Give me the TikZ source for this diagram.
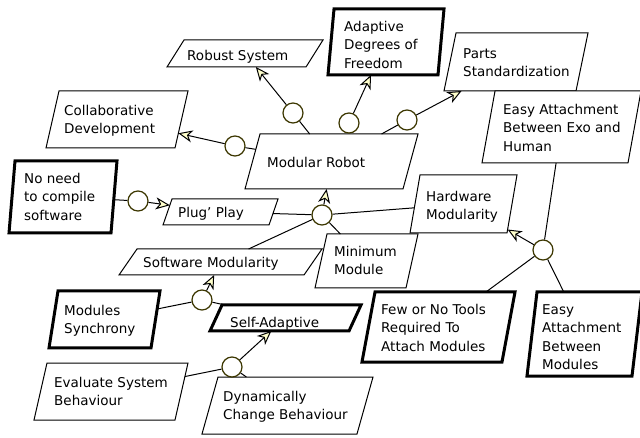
\documentclass[tikz,border=0pt]{standalone}
\usepackage{fontspec}
\setmainfont{DejaVu Sans}
\usetikzlibrary{arrows.meta}
\definecolor{hubcol}{RGB}{60,55,0}
\definecolor{arrfill}{RGB}{255,255,204}
\begin{document}
\begin{tikzpicture}[x=1pt,y=-1pt,
  box/.style={rectangle, draw=black, fill=white, line width=1pt, inner sep=0pt, outer sep=0pt},
  boldbox/.style={box, line width=3pt},
  lbl/.style={anchor=north west, align=left, inner sep=0pt, font=\fontsize{13.5}{18.2}\selectfont},
  hub/.style={circle, draw=hubcol, fill=white, line width=1.2pt, minimum size=20pt, inner sep=0pt},
  conn/.style={line width=1pt, draw=black},
  arr/.style={conn, -{Stealth[length=14pt,width=12pt,inset=4pt,fill=arrfill]}},
]
\useasboundingbox (0,0) rectangle (640,438);
\fill[white] (0,0) rectangle (640,438);
\clip (0,0) rectangle (640,438);

% boxes (parallelograms: slanted rectangles)
\node[box, minimum width=139pt, minimum height=27pt, xslant=0.630] (robust) at (245,53.5) {};
\node[box, minimum width=129pt, minimum height=57pt, xslant=0.228] (collab) at (117,119.5) {};
\node[boldbox, minimum width=110pt, minimum height=66pt, xslant=0.091] (adaptive) at (386,42) {};
\node[box, minimum width=132pt, minimum height=58pt, xslant=0.207] (parts) at (516,62) {};
\node[box, minimum width=146pt, minimum height=72pt, xslant=0.181] (exo) at (561.5,127) {};
\node[box, minimum width=158pt, minimum height=55pt, xslant=0.273] (modular) at (331.5,161.5) {};
\node[boldbox, minimum width=102pt, minimum height=72pt, xslant=0.083] (noneed) at (63,197) {};
\node[box, minimum width=106pt, minimum height=26pt, xslant=0.346] (plug) at (220.5,212) {};
\node[box, minimum width=97pt, minimum height=58pt, xslant=0.172] (hardware) at (463.5,204) {};
\node[box, minimum width=91pt, minimum height=54pt, xslant=0.222] (minimum) at (366.5,261) {};
\node[box, minimum width=185pt, minimum height=26pt, xslant=0.692] (software) at (220.5,262) {};
\node[boldbox, minimum width=102pt, minimum height=57pt, xslant=0.158] (modsync) at (104.5,319.5) {};
\node[boldbox, minimum width=139pt, minimum height=26pt, xslant=0.462] (selfadapt) at (285.5,318) {};
\node[box, minimum width=141pt, minimum height=57pt, xslant=0.228] (evaluate) at (111,391.5) {};
\node[box, minimum width=155pt, minimum height=57pt, xslant=0.281] (dynamic) at (287.5,405.5) {};
\node[boldbox, minimum width=140pt, minimum height=70pt, xslant=0.186] (few) at (438.5,327) {};
\node[boldbox, minimum width=105pt, minimum height=84pt, xslant=0.119] (easymod) at (584.5,334) {};

% texts
\node[lbl] (robust-t) at (187,47.3) {\strut Robust System};
\node[lbl] (collab-t) at (64,102.8) {\strut Collaborative\\\strut Development};
\node[lbl] (adaptive-t) at (344,18.8) {\strut Adaptive\\\strut Degrees of\\\strut Freedom};
\node[lbl] (parts-t) at (463,45.8) {\strut Parts\\\strut Standardization};
\node[lbl] (exo-t) at (503,101.8) {\strut Easy Attachment\\\strut Between Exo and\\\strut Human};
\node[lbl] (modular-t) at (267,154.8) {\strut Modular Robot};
\node[lbl] (noneed-t) at (24,170.8) {\strut No need\\\strut to compile\\\strut software};
\node[lbl] (plug-t) at (178,204.8) {\strut Plug' Play};
\node[lbl] (hardware-t) at (426,188.8) {\strut Hardware\\\strut Modularity};
\node[lbl] (minimum-t) at (334,243.8) {\strut Minimum\\\strut Module};
\node[lbl] (software-t) at (143,254.8) {\strut Software Modularity};
\node[lbl] (modsync-t) at (64,302.8) {\strut Modules\\\strut Synchrony};
\node[lbl] (selfadapt-t) at (230,314.8) {\strut Self-Adaptive};
\node[lbl] (evaluate-t) at (54,374.8) {\strut Evaluate System\\\strut Behaviour};
\node[lbl] (dynamic-t) at (223,388.8) {\strut Dynamically\\\strut Change Behaviour};
\node[lbl] (few-t) at (381,301.8) {\strut Few or No Tools\\\strut Required To\\\strut Attach Modules};
\node[lbl] (easymod-t) at (542,301.8) {\strut Easy\\\strut Attachment\\\strut Between\\\strut Modules};

% hubs
\node[hub] (c1) at (293,113) {};
\node[hub] (c2) at (235,146) {};
\node[hub] (c3) at (349,123) {};
\node[hub] (c4) at (407,120) {};
\node[hub] (c5) at (138,201) {};
\node[hub] (c6) at (322,215) {};
\node[hub] (c7) at (202,300) {};
\node[hub] (c8) at (232,367) {};
\node[hub] (c9) at (543,250) {};

% connectors
\draw[conn] (modular) -- (c1); \draw[arr] (c1) -- (robust);
\draw[conn] (modular) -- (c2); \draw[arr] (c2) -- (collab);
\draw[arr] (c3) -- (adaptive);
\draw[conn] (modular) -- (c4); \draw[arr] (c4) -- (parts);
\draw[conn] (noneed) -- (c5); \draw[arr] (c5) -- (plug);
\draw[arr] (c6) -- (modular);
\draw[conn] (plug) -- (c6);
\draw[conn] (software) -- (c6);
\draw[conn] (minimum) -- (c6);
\draw[conn] (hardware) -- (c6);
\draw[arr] (c7) -- (software);
\draw[conn] (modsync) -- (c7);
\draw[conn] (selfadapt) -- (c7);
\draw[arr] (c8) -- (selfadapt);
\draw[conn] (evaluate) -- (c8);
\draw[conn] (dynamic) -- (c8);
\draw[arr] (c9) -- (hardware);
\draw[conn] (exo) -- (c9);
\draw[conn] (few) -- (c9);
\draw[conn] (easymod) -- (c9);
\end{tikzpicture}
\end{document}
